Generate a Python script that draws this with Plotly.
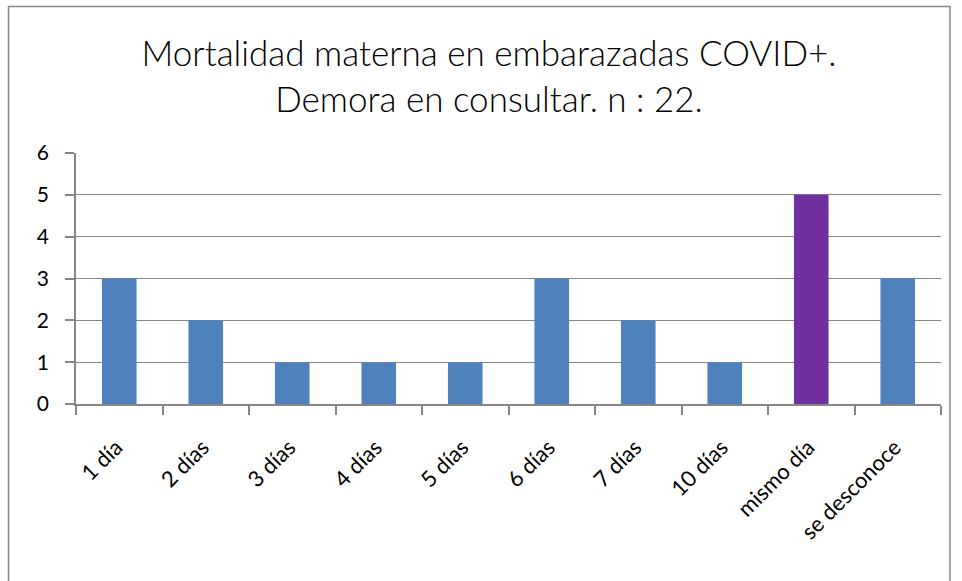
import plotly.graph_objects as go

categories = ["1 día", "2 días", "3 días", "4 días", "5 días", "6 días", "7 días", "10 días", "mismo día", "se desconoce"]
values = [3, 2, 1, 1, 1, 3, 2, 1, 5, 3]
bar_colors = ["#4F81BD"] * 8 + ["#7030A0"] + ["#4F81BD"]
title_lines = ["Mortalidad materna en embarazadas COVID+.", "Demora en consultar. n : 22."]
y_ticks = [0, 1, 2, 3, 4, 5, 6]

W, H = 962, 581
L, R, T, B = 76, 941, 153, 404
pw, ph = R - L, B - T

def px(x):
    return (x - L) / pw

def py(y):
    return (B - y) / ph

fig = go.Figure(go.Bar(x=categories, y=values, marker=dict(color=bar_colors, line=dict(width=0)), width=0.4))

fig.update_layout(
    width=W, height=H,
    margin=dict(l=L, r=W - R, t=T, b=H - B, pad=0),
    paper_bgcolor="white", plot_bgcolor="white",
    font=dict(family="Lato, Open Sans, sans-serif", color="#000000"),
    showlegend=False,
    title=dict(text="<br>".join(title_lines), x=px(489), xref="paper", xanchor="center",
               y=1 - 66 / H, yanchor="middle", font=dict(size=35, color="#000000", weight=300)),
    shapes=[dict(type="rect", xref="paper", yref="paper", x0=px(8.5), x1=px(950), y0=py(600), y1=py(6.5),
                 line=dict(color="#868686", width=1.5), fillcolor="rgba(0,0,0,0)", layer="below")],
)
fig.update_xaxes(
    type="category", showline=True, linecolor="#868686", linewidth=1.5,
    ticks="outside", tickson="boundaries", ticklen=9, tickcolor="#868686", tickwidth=1.5,
    tickangle=-45, tickfont=dict(size=22), showgrid=False, ticklabelstandoff=20, ticklabelshift=-3,
)
fig.update_yaxes(
    range=[0, 6], tickvals=y_ticks, showline=True, linecolor="#868686", linewidth=1.5,
    ticks="outside", ticklen=9, tickcolor="#868686", tickwidth=1.5,
    showgrid=True, gridcolor="#868686", gridwidth=1.2, tickfont=dict(size=21),
    ticklabelstandoff=12, zeroline=False,
)
fig.write_html("out.html", config={"displayModeBar": False},
               post_script="document.body.style.margin='0';document.body.style.overflow='hidden';")
